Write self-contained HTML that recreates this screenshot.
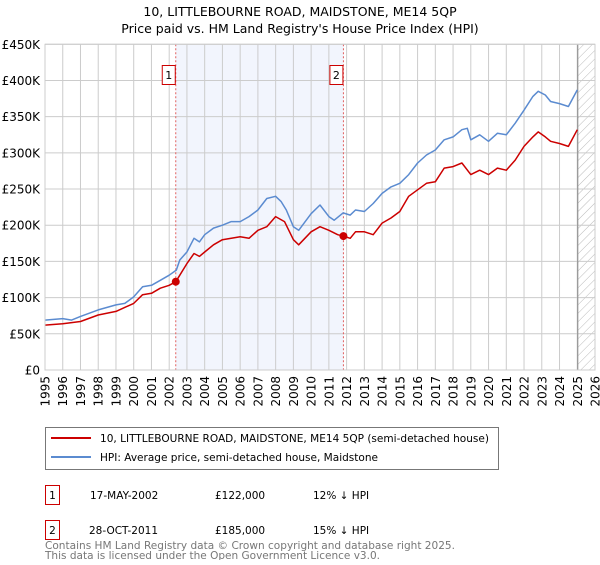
<!DOCTYPE html>
<html><head><meta charset="utf-8"><style>
body{margin:0;background:#fff;font-family:"Liberation Sans","DejaVu Sans",sans-serif;}
svg text{font-family:"DejaVu Sans","Liberation Sans",sans-serif;}
</style></head><body>
<svg id="chart" width="600" height="560" xmlns="http://www.w3.org/2000/svg">
<defs><pattern id="hatch" patternUnits="userSpaceOnUse" width="6" height="6" patternTransform="rotate(45)"><line x1="0" y1="0" x2="0" y2="6" stroke="#bbb" stroke-width="1"/></pattern></defs>
<text x="300" y="16" font-size="12.5" text-anchor="middle">10, LITTLEBOURNE ROAD, MAIDSTONE, ME14 5QP</text>
<text x="300" y="33" font-size="12.5" text-anchor="middle">Price paid vs. HM Land Registry's House Price Index (HPI)</text>
<g id="plot"></g>
<g>
<rect x="45.5" y="427.5" width="453" height="42" fill="#fff" stroke="#777"/>
<line x1="51" y1="438" x2="91" y2="438" stroke="#cc0000" stroke-width="2"/>
<text x="100" y="442" font-size="10.5" textLength="389" lengthAdjust="spacingAndGlyphs">10, LITTLEBOURNE ROAD, MAIDSTONE, ME14 5QP (semi-detached house)</text>
<line x1="51" y1="457" x2="91" y2="457" stroke="#5b8bd0" stroke-width="2"/>
<text x="100" y="461" font-size="10.5" textLength="278" lengthAdjust="spacingAndGlyphs">HPI: Average price, semi-detached house, Maidstone</text>
</g>
<g font-size="10.5">
<rect x="45.5" y="485.5" width="14" height="19" fill="#fff" stroke="#cc0000"/><text x="52.5" y="499" text-anchor="middle">1</text>
<text x="90" y="499">17-MAY-2002</text><text x="215" y="499">£122,000</text><text x="313" y="499">12% ↓ HPI</text>
<rect x="45.5" y="520.5" width="14" height="19" fill="#fff" stroke="#cc0000"/><text x="52.5" y="534" text-anchor="middle">2</text>
<text x="89" y="534">28-OCT-2011</text><text x="215" y="534">£185,000</text><text x="313" y="534">15% ↓ HPI</text>
</g>
<text x="45" y="549" font-size="10.5" fill="#777" textLength="410" lengthAdjust="spacingAndGlyphs">Contains HM Land Registry data © Crown copyright and database right 2025.</text>
<text x="45" y="559" font-size="10.5" fill="#777" textLength="335" lengthAdjust="spacingAndGlyphs">This data is licensed under the Open Government Licence v3.0.</text>
</svg>
<script>
const hpiYears=[1995,1996,1996.5,1997,1998,1999,1999.5,2000,2000.5,2001,2001.5,2002,2002.4,2002.6,2003,2003.4,2003.7,2004,2004.5,2005,2005.5,2006,2006.5,2007,2007.5,2008,2008.3,2008.6,2009,2009.3,2010,2010.5,2011,2011.3,2011.8,2012.2,2012.5,2013,2013.5,2014,2014.5,2015,2015.5,2016,2016.5,2017,2017.5,2018,2018.5,2018.8,2019,2019.5,2020,2020.5,2021,2021.5,2022,2022.5,2022.8,2023.2,2023.5,2024,2024.5,2025];
const hpiValues=[69,71,69,74,83,90,92,101,115,117,124,131,138,152,163,182,177,187,196,200,205,205,212,221,237,240,233,221,198,193,216,228,212,207,217,214,221,219,230,244,253,258,270,286,297,304,318,322,332,334,318,325,316,327,325,341,359,378,385,380,371,368,364,387];
const priceYears=[1995,1996,1997,1998,1999,2000,2000.5,2001,2001.5,2002,2002.37,2003,2003.4,2003.7,2004,2004.5,2005,2006,2006.5,2007,2007.5,2008,2008.5,2009,2009.3,2010,2010.5,2011,2011.5,2011.82,2012.2,2012.5,2013,2013.5,2014,2014.5,2015,2015.5,2016,2016.5,2017,2017.5,2018,2018.5,2019,2019.5,2020,2020.5,2021,2021.5,2022,2022.5,2022.8,2023.2,2023.5,2024,2024.5,2025];
const priceValues=[62,64,67,76,81,92,104,106,113,117,122,147,161,157,163,173,180,184,182,193,198,212,205,180,173,191,198,193,187,185,182,191,191,187,203,210,219,240,249,258,260,279,281,286,270,276,270,279,276,290,309,322,329,322,316,313,309,332];
const saleYears=[2002.37,2011.82];
const saleValues=[122,185];
const saleLabels=["1","2"];
const yTicks=[0,50,100,150,200,250,300,350,400,450];
const yTickLabels=["£0","£50K","£100K","£150K","£200K","£250K","£300K","£350K","£400K","£450K"];
const xTicks=[1995,1996,1997,1998,1999,2000,2001,2002,2003,2004,2005,2006,2007,2008,2009,2010,2011,2012,2013,2014,2015,2016,2017,2018,2019,2020,2021,2022,2023,2024,2025,2026];
const dataEnd=2025.03;

const NS="http://www.w3.org/2000/svg";
const X0=45,X1=595,Y0=370,Y1=44.3;
const x=v=>X0+(v-1995)/(2026-1995)*(X1-X0);
const y=v=>Y0-v/450*(Y0-Y1);
const g=document.getElementById('plot');
function el(t,a,p){const e=document.createElementNS(NS,t);for(const k in a)e.setAttribute(k,a[k]);(p||g).appendChild(e);return e;}

let r=el('rect',{x:x(saleYears[0]),y:Y1,width:x(saleYears[1])-x(saleYears[0]),height:Y0-Y1,fill:'#f2f5fd'});


let h=el('rect',{x:x(dataEnd),y:Y1,width:X1-x(dataEnd),height:Y0-Y1,fill:'url(#hatch)'});



yTicks.forEach((t,i)=>{
  const l=el('line',{x1:X0,x2:X1,y1:y(t),y2:y(t),stroke:'#ccc','stroke-width':1});
  
  
  const tx=el('text',{x:40,y:y(t)+4.5,'font-size':12,'text-anchor':'end'});
  tx.textContent=yTickLabels[i];
  
  
});
xTicks.forEach(t=>{
  const l=el('line',{x1:x(t),x2:x(t),y1:Y1,y2:Y0,stroke:'#ccc','stroke-width':1});
  
  
  const tx=el('text',{x:0,y:0,'font-size':12,'text-anchor':'end',transform:`translate(${x(t)+4.5},376) rotate(-90)`});
  tx.textContent=t;
  
  
});
let ve=el('line',{x1:x(dataEnd),x2:x(dataEnd),y1:Y1,y2:Y0,stroke:'#888','stroke-width':1});



saleYears.forEach((s,i)=>{
  const l=el('line',{x1:x(s),x2:x(s),y1:Y1,y2:Y0,stroke:'#e06060','stroke-width':1,'stroke-dasharray':'2,2'});
  
  
});

function path(xs,vs,color,name){
  const d=xs.map((v,i)=>(i?'L':'M')+x(v).toFixed(1)+','+y(vs[i]).toFixed(1)).join('');
  const p=el('path',{d:d,fill:'none',stroke:color,'stroke-width':1.5,'stroke-linejoin':'round'});
  
  
}
path(hpiYears,hpiValues,'#5b8bd0','hpi-line');
path(priceYears,priceValues,'#cc0000','price-paid-line');

saleYears.forEach((s,i)=>{
  const c=el('circle',{cx:x(s),cy:y(saleValues[i]),r:4,fill:'#cc0000'});
  
  
  const bx=el('rect',{x:x(s)-13.5,y:65.5,width:13,height:19,fill:'#fff',stroke:'#cc0000'});
  
  
  const t=el('text',{x:x(s)-7,y:79,'font-size':11,'text-anchor':'middle'});
  t.textContent=saleLabels[i];
  
  
});
let fr=el('rect',{x:X0,y:Y1,width:X1-X0,height:Y0-Y1,fill:'none',stroke:'#ccc'});


</script>
</body></html>
